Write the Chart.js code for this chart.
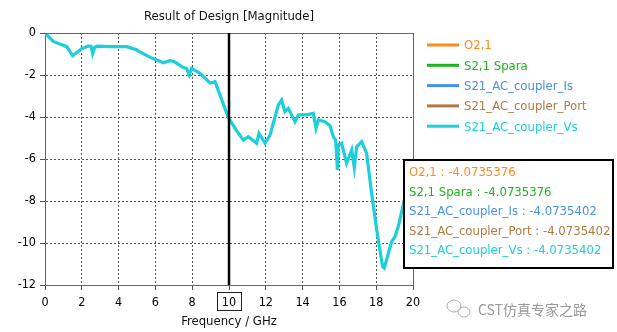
<!DOCTYPE html>
<html>
<head>
<meta charset="utf-8">
<script src="https://cdn.jsdelivr.net/npm/chart.js@4.4.1/dist/chart.umd.min.js"></script>
<style>
	body { margin: 0; background: #fff; }
	#wrap { width: 617px; height: 332px; position: relative; }
</style>
</head>
<body>
<div id="wrap"><canvas id="c" width="617" height="332"></canvas></div>
<script>
// data
var freqGHz = [0, 0.45, 1.18, 1.5, 2.0, 2.35, 2.5, 2.59, 2.7, 2.85, 3.5, 4.44, 4.98, 5.16, 5.7, 6.43, 6.79, 7.0, 7.43, 7.7, 7.84, 7.97, 8.42, 8.97, 9.24, 9.51, 9.91, 10.0, 10.42, 10.78, 11.05, 11.5, 11.63, 11.96, 12.23, 12.68, 12.86, 13.04, 13.22, 13.59, 13.77, 14.2, 14.58, 14.73, 14.86, 15.22, 15.49, 15.67, 15.8, 15.89, 15.94, 16.12, 16.39, 16.67, 16.81, 16.94, 17.21, 17.48, 17.75, 18.03, 18.17, 18.35, 18.44, 18.66, 18.84, 19.02, 19.2, 19.44, 19.7, 20];
var magDB = [0, -0.4, -0.65, -1.08, -0.75, -0.62, -0.63, -0.98, -0.68, -0.63, -0.65, -0.65, -0.8, -0.9, -1.15, -1.42, -1.32, -1.35, -1.6, -1.7, -2.0, -1.68, -1.92, -2.38, -2.32, -2.95, -3.9, -4.07, -4.66, -5.1, -4.94, -5.25, -4.78, -5.25, -4.86, -3.43, -3.19, -3.75, -3.59, -4.22, -3.9, -3.9, -3.83, -4.54, -4.14, -4.22, -4.42, -4.94, -5.1, -6.5, -5.33, -5.25, -6.2, -5.57, -6.41, -5.41, -5.17, -5.73, -7.63, -9.38, -10.17, -11.13, -11.2, -10.49, -9.94, -9.7, -9.22, -8.3, -7.3, -6.5];
var seriesNames = ["O2,1", "S2,1 Spara", "S21_AC_coupler_Is", "S21_AC_coupler_Port", "S21_AC_coupler_Vs"];
var seriesColors = ["#ff8a1c", "#1db41d", "#4a90e8", "#b07a42", "#1ccfdb"];
var markerValues = ["-4.0735376", "-4.0735376", "-4.0735402", "-4.0735402", "-4.0735402"];
var markerFreq = 10;

var FONT = '"DejaVu Sans Condensed", "DejaVu Sans", sans-serif';

// extra drawing: title, frame, marker, legend, readout box, watermark
var decorPlugin = {
	id: 'decor',
	afterDraw: function (chart) {
		var ctx = chart.ctx;
		var area = chart.chartArea;
		var xs = chart.scales.x;
		ctx.save();

		// frame top/right
		ctx.strokeStyle = '#666';
		ctx.lineWidth = 1;
		ctx.beginPath();
		ctx.moveTo(area.left, area.top + 0.5);
		ctx.lineTo(area.right + 0.5, area.top + 0.5);
		ctx.lineTo(area.right + 0.5, area.bottom);
		ctx.stroke();

		// marker line
		var mx = Math.round(xs.getPixelForValue(markerFreq));
		ctx.strokeStyle = '#000';
		ctx.lineWidth = 2.5;
		ctx.beginPath();
		ctx.moveTo(mx, area.top);
		ctx.lineTo(mx, area.bottom);
		ctx.stroke();

		// box around marker tick label
		ctx.lineWidth = 1;
		ctx.strokeStyle = '#222';
		ctx.strokeRect(mx - 12 + 0.5, 292.5, 24, 18);

		// title + axis title
		ctx.fillStyle = '#111';
		ctx.font = '13px ' + FONT;
		ctx.textAlign = 'center';
		ctx.textBaseline = 'middle';
		ctx.fillText('Result of Design [Magnitude]', (area.left + area.right) / 2, 17);
		ctx.fillText('Frequency / GHz', (area.left + area.right) / 2, 322);

		// legend
		ctx.textAlign = 'left';
		for (var i = 0; i < seriesNames.length; i++) {
			var ly = 45 + i * 20.3;
			ctx.strokeStyle = seriesColors[i];
			ctx.lineWidth = 3;
			ctx.beginPath();
			ctx.moveTo(427, ly);
			ctx.lineTo(459, ly);
			ctx.stroke();
			ctx.fillStyle = seriesColors[i];
			ctx.fillText(seriesNames[i], 464, ly + 1);
		}

		// readout box
		ctx.fillStyle = '#fff';
		ctx.fillRect(404, 160, 209, 108);
		ctx.strokeStyle = '#000';
		ctx.lineWidth = 2;
		ctx.strokeRect(404, 160, 209, 108);
		for (var j = 0; j < seriesNames.length; j++) {
			ctx.fillStyle = seriesColors[j];
			ctx.fillText(seriesNames[j] + ' : ' + markerValues[j], 409, 173 + j * 19.4);
		}

		// watermark
		ctx.strokeStyle = '#b0b0b0';
		ctx.lineWidth = 1;
		ctx.beginPath();
		ctx.ellipse(454, 306, 7, 6, 0, 0, Math.PI * 2);
		ctx.stroke();
		ctx.beginPath();
		ctx.ellipse(464, 312, 6, 5, 0, 0, Math.PI * 2);
		ctx.stroke();
		ctx.fillStyle = '#9a9a9a';
		ctx.font = '14px "Noto Sans CJK SC", sans-serif';
		ctx.fillText('CST仿真专家之路', 478, 310);

		ctx.restore();
	}
};

var datasets = seriesNames.map(function (name, i) {
	var top = i === seriesNames.length - 1;
	return {
		label: name,
		data: freqGHz.map(function (f, k) { return { x: f, y: magDB[k] }; }),
		borderColor: seriesColors[i],
		borderWidth: top ? 3.2 : 1.5,
		pointRadius: 0,
		tension: 0,
		fill: false,
		order: seriesNames.length - 1 - i
	};
});

var axisCommon = {
	type: 'linear',
	ticks: { stepSize: 2, color: '#000', font: { family: FONT, size: 12.5 } },
	grid: { color: '#555', tickColor: '#555', tickLength: 5, lineWidth: 1 },
	border: { display: true, color: '#666', width: 1, dash: [2, 2] }
};

new Chart(document.getElementById('c').getContext('2d'), {
	type: 'line',
	data: { datasets: datasets },
	options: {
		responsive: false,
		animation: false,
		devicePixelRatio: 1,
		layout: { padding: { left: 0, top: 33, right: 204, bottom: 0 } },
		plugins: { legend: { display: false }, tooltip: { enabled: false }, title: { display: false } },
		scales: {
			x: Object.assign({}, axisCommon, {
				min: 0, max: 20,
				ticks: Object.assign({}, axisCommon.ticks, { padding: 5, maxRotation: 0 }),
				afterFit: function (s) { s.height = 47; }
			}),
			y: Object.assign({}, axisCommon, {
				min: -12, max: 0,
				ticks: Object.assign({}, axisCommon.ticks, { padding: 4 }),
				afterFit: function (s) { s.width = 45; }
			})
		}
	},
	plugins: [decorPlugin]
});
</script>
</body>
</html>
